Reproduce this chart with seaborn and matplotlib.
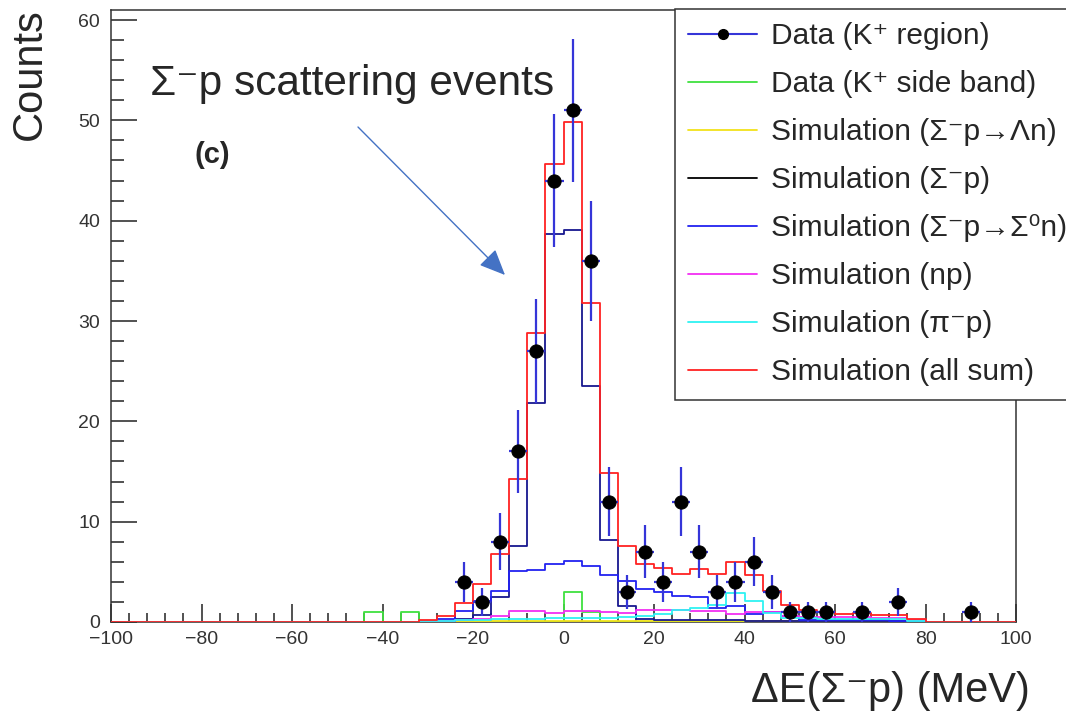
import numpy as np
import pandas as pd
import matplotlib
matplotlib.use("Agg")
import matplotlib.pyplot as plt
from matplotlib.lines import Line2D
from matplotlib.ticker import MultipleLocator
import seaborn as sns

# 4 MeV bins spanning -100 .. 100 MeV (50 bins)
BIN_W = 4
X_RANGE = (-100, 100)
edges = np.arange(X_RANGE[0], X_RANGE[1] + 1, BIN_W)
centers = (edges[:-1] + edges[1:]) / 2

# Observed counts, K+ region
data_k_region = [
    0, 0, 0, 0, 0, 0, 0, 0, 0, 0,
    0, 0, 0, 0, 0, 0, 0, 0, 0, 4,
    2, 8, 17, 27, 44, 51, 36, 12, 3, 7,
    4, 12, 7, 3, 4, 6, 3, 1, 1, 1,
    0, 1, 0, 2, 0, 0, 0, 1, 0, 0,
]

# Observed counts, K+ side band
data_k_sideband = [
    0, 0, 0, 0, 0, 0, 0, 0, 0, 0,
    0, 0, 0, 0, 1, 0, 1, 0, 0, 0,
    0, 0, 0, 0, 0, 3, 1, 0, 0, 0,
    0, 0, 0, 0, 0, 0, 0, 0, 0, 0,
    0, 0, 0, 0, 0, 0, 0, 0, 0, 0,
]

# Simulated components
sim_lambda_n = [
    0, 0, 0, 0, 0, 0, 0, 0, 0, 0,
    0, 0, 0, 0, 0, 0, 0, 0.05, 0.05, 0.1,
    0.1, 0.1, 0.1, 0.1, 0.1, 0.1, 0.1, 0.1, 0.1, 0.1,
    0.1, 0.1, 0.1, 0.1, 0.1, 0.1, 0.1, 0.1, 0.1, 0.1,
    0.1, 0.1, 0.1, 0.1, 0.05, 0, 0, 0, 0, 0,
]
sim_sigma_p = [
    0, 0, 0, 0, 0, 0, 0, 0, 0, 0,
    0, 0, 0, 0, 0, 0, 0, 0, 0.1, 0.3,
    0.7, 2.5, 7.6, 21.8, 38.7, 39.1, 23.5, 8.2, 1.6, 0.25,
    0.2, 0.2, 0.2, 0.15, 0.15, 0.1, 0.1, 0.1, 0.1, 0.1,
    0.1, 0.1, 0.1, 0.1, 0.05, 0, 0, 0, 0, 0,
]
sim_sigma0_n = [
    0, 0, 0, 0, 0, 0, 0, 0, 0, 0,
    0, 0, 0, 0, 0, 0, 0, 0.05, 0.25, 1.1,
    2.1, 3.1, 5.1, 5.2, 5.8, 6.1, 5.6, 4.7, 4.1, 3.3,
    3.0, 2.6, 2.5, 1.4, 1.6, 0.8, 1.0, 0.6, 0.2, 0.2,
    0.15, 0.15, 0.15, 0.1, 0.05, 0, 0, 0, 0, 0,
]
sim_np = [
    0, 0, 0, 0, 0, 0, 0, 0, 0, 0,
    0, 0, 0, 0, 0, 0, 0, 0.05, 0.1, 0.2,
    0.3, 0.6, 1.1, 1.05, 0.9, 1.1, 1.1, 1.0, 0.9, 1.2,
    1.2, 1.15, 1.1, 1.1, 0.8, 1.0, 1.0, 0.6, 0.5, 0.5,
    0.45, 0.45, 0.4, 0.4, 0.2, 0, 0, 0, 0, 0,
]
sim_pi_p = [
    0, 0, 0, 0, 0, 0, 0, 0, 0, 0,
    0, 0, 0, 0, 0, 0, 0, 0.05, 0.1, 0.15,
    0.2, 0.25, 0.3, 0.3, 0.35, 0.35, 0.4, 0.4, 0.45, 0.6,
    0.75, 1.2, 1.4, 1.7, 2.9, 2.1, 0.9, 0.4, 0.35, 0.3,
    0.3, 0.3, 0.25, 0.25, 0.1, 0, 0, 0, 0, 0,
]
sim_all_sum = [
    0, 0, 0, 0, 0, 0, 0, 0, 0, 0,
    0, 0, 0, 0, 0, 0, 0, 0.2, 0.6, 1.9,
    3.8, 6.8, 14.3, 28.8, 45.7, 49.8, 31.8, 14.9, 7.6, 5.8,
    5.4, 4.8, 5.3, 4.8, 6.0, 4.7, 3.1, 1.7, 1.2, 1.0,
    0.8, 0.85, 0.7, 0.65, 0.3, 0, 0, 0, 0, 0,
]

labels = [
    "Data (K\u207a region)",
    "Data (K\u207a side band)",
    "Simulation (\u03a3\u207bp\u2192\u039bn)",
    "Simulation (\u03a3\u207bp)",
    "Simulation (\u03a3\u207bp\u2192\u03a3\u2070n)",
    "Simulation (np)",
    "Simulation (\u03c0\u207bp)",
    "Simulation (all sum)",
]

ERR_BLUE = "#3535d8"
hist_series = [
    (data_k_sideband, "#3fe03f"),
    (sim_lambda_n, "#f2e21a"),
    (sim_sigma_p, "#17178f"),
    (sim_sigma0_n, "#2222f0"),
    (sim_np, "#f22ef2"),
    (sim_pi_p, "#2ef2f2"),
    (sim_all_sum, "#ff2222"),
]
legend_colors = ["#3fe03f", "#f2e21a", "#000000", "#2222f0",
                 "#f22ef2", "#2ef2f2", "#ff2222"]

sns.set_style("white")
plt.rcParams["font.family"] = ["Liberation Sans", "DejaVu Sans"]
plt.rcParams["axes.unicode_minus"] = True

W, H = 1066, 714
fig = plt.figure(figsize=(W / 100, H / 100), dpi=100)
ax = fig.add_axes([111 / W, 1 - 622 / H, (1016 - 111) / W, (622 - 10) / H])

for values, color in hist_series:
    frame = pd.DataFrame({"dE": centers, "w": np.asarray(values, dtype=float)})
    sns.histplot(data=frame, x="dE", weights="w", binwidth=BIN_W,
                 binrange=X_RANGE, element="step", fill=False, color=color,
                 linewidth=1.3, ax=ax, zorder=3)

# Data points with Poisson errors
counts = np.asarray(data_k_region, dtype=float)
mask = counts > 0
ax.errorbar(centers[mask], counts[mask], yerr=np.sqrt(counts[mask]),
            xerr=BIN_W / 2, fmt="none", ecolor=ERR_BLUE, elinewidth=1.6,
            capsize=0, zorder=5)
sns.scatterplot(x=centers[mask], y=counts[mask], color="black",
                edgecolor="black", s=90, marker="o", ax=ax, zorder=6)

ax.set_xlim(*X_RANGE)
ax.set_ylim(0, 61)
ax.set_xlabel("")
ax.set_ylabel("")

ax.xaxis.set_major_locator(MultipleLocator(20))
ax.xaxis.set_minor_locator(MultipleLocator(4))
ax.yaxis.set_major_locator(MultipleLocator(10))
ax.yaxis.set_minor_locator(MultipleLocator(2))
ax.tick_params(axis="both", which="both", direction="in", colors="#333333",
               width=1.2, labelsize=14, labelcolor="#333333",
               bottom=True, left=True, top=False, right=False)
ax.tick_params(axis="y", which="major", length=18.5, pad=8)
ax.tick_params(axis="y", which="minor", length=9.3)
ax.tick_params(axis="x", which="major", length=13, pad=6.5)
ax.tick_params(axis="x", which="minor", length=6.5)
for side in ax.spines.values():
    side.set_visible(True)
    side.set_color("#333333")
    side.set_linewidth(1.1)

# Legend
handles = [Line2D([], [], color=ERR_BLUE, lw=1.5, marker="o",
                  markersize=7, markerfacecolor="black",
                  markeredgecolor="black")]
handles += [Line2D([], [], color=c, lw=1.3) for c in legend_colors]
leg = ax.legend(handles, labels, loc="upper left",
                bbox_to_anchor=(675 / W, 1 - 9 / H),
                bbox_transform=fig.transFigure, fontsize=21.5,
                frameon=True, fancybox=False, framealpha=1,
                edgecolor="#333333", borderpad=0.45, labelspacing=0.67,
                handlelength=2.3, handletextpad=0.45, borderaxespad=0)
leg.get_frame().set_linewidth(1.1)
leg.set_zorder(10)

# Axis titles and annotations
fig.text(30 / W, 1 - 74 / H, "Counts", rotation=90, ha="center",
         va="center", fontsize=30)
fig.text(1030 / W, 1 - 702 / H, "\u0394E(\u03a3\u207bp) (MeV)",
         ha="right", va="baseline", fontsize=30)
fig.text(150 / W, 1 - 95 / H, "\u03a3\u207bp scattering events",
         ha="left", va="baseline", fontsize=30.5)
fig.text(195 / W, 1 - 163 / H, "(c)", ha="left", va="baseline",
         fontsize=21, fontweight="bold")

ax.annotate("", xy=(505, H - 275), xytext=(358, H - 127),
            xycoords="figure pixels", textcoords="figure pixels",
            arrowprops=dict(arrowstyle="-|>,head_length=0.8,head_width=0.35",
                            color="#4472c4", lw=1.0, mutation_scale=20,
                            shrinkA=0, shrinkB=0))

fig.savefig("out.png", dpi=100)
